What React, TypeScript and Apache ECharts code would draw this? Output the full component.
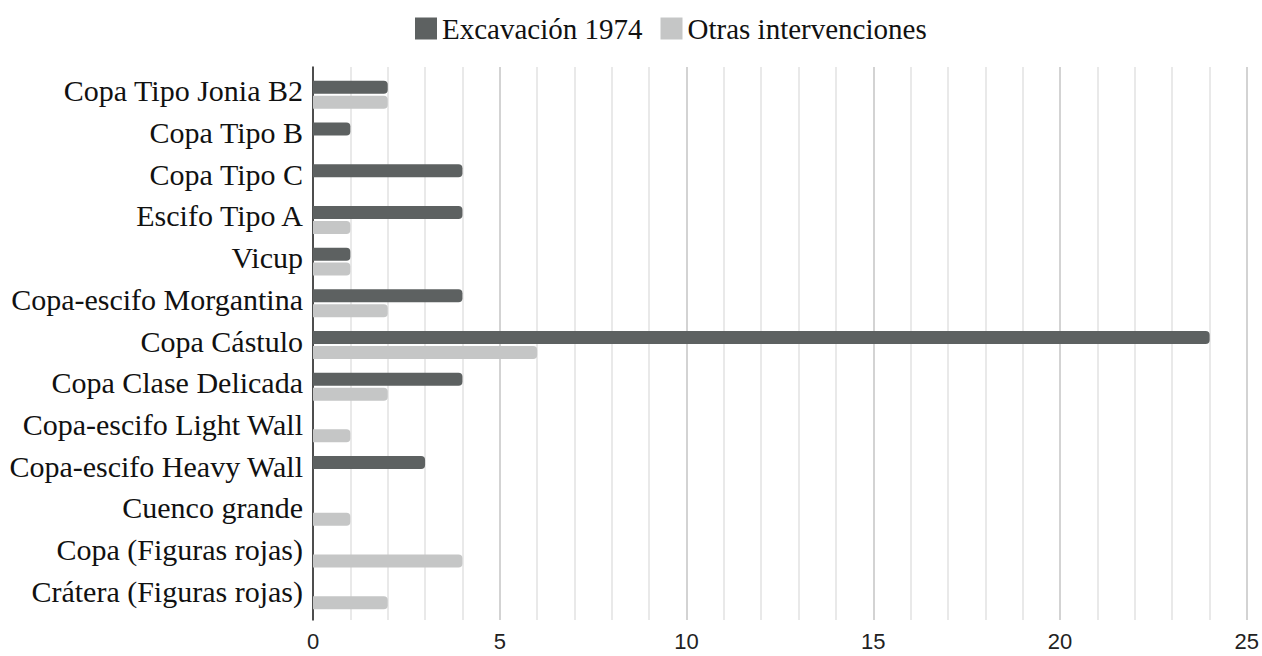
import React, { useEffect, useRef } from "react";
import * as echarts from "echarts";

const categories = [
  "Copa Tipo Jonia B2",
  "Copa Tipo B",
  "Copa Tipo C",
  "Escifo Tipo A",
  "Vicup",
  "Copa-escifo Morgantina",
  "Copa Cástulo",
  "Copa Clase Delicada",
  "Copa-escifo Light Wall",
  "Copa-escifo Heavy Wall",
  "Cuenco grande",
  "Copa (Figuras rojas)",
  "Crátera (Figuras rojas)",
];
const excavacion1974 = [2, 1, 4, 4, 1, 4, 24, 4, 0, 3, 0, 0, 0];
const otrasIntervenciones = [2, 0, 0, 1, 1, 2, 6, 2, 1, 0, 1, 4, 2];
const seriesNames = ["Excavación 1974", "Otras intervenciones"];

export default function App() {
  const ref = useRef<HTMLDivElement>(null);
  useEffect(() => {
    document.body.style.margin = "0";
    if (!ref.current) return;
    const chart = echarts.init(ref.current, null, { renderer: "svg" });
    const serif = "'Liberation Serif', 'DejaVu Serif', serif";
    chart.setOption({
      animation: false,
      legend: {
        top: 14,
        left: 415,
        padding: 0,
        itemWidth: 22,
        itemHeight: 22,
        itemGap: 18,
        icon: "rect",
        textStyle: { fontFamily: serif, fontSize: 29, color: "#111" },
        data: seriesNames,
      },
      grid: [
        { left: 313, right: 15, top: 67, bottom: 36 },
        { left: 313, right: 15, top: 74, bottom: 40 },
      ],
      xAxis: [
        {
          type: "value",
          gridIndex: 0,
          min: 0,
          max: 25,
          interval: 5,
          axisLine: { show: false },
          axisTick: { show: false },
          axisLabel: {
            fontFamily: "'Liberation Sans', Arial, sans-serif",
            fontSize: 22,
            color: "#222",
            margin: 10,
          },
          splitLine: { show: true, lineStyle: { color: "#c4c4c4", width: 1.5 } },
          minorTick: { show: false, splitNumber: 5 },
          minorSplitLine: { show: true, lineStyle: { color: "#e2e2e2", width: 1.5 } },
        },
        {
          type: "value",
          gridIndex: 1,
          min: 0,
          max: 25,
          interval: 5,
          show: false,
        },
      ],
      yAxis: [
        {
          type: "category",
          gridIndex: 0,
          inverse: true,
          data: categories,
          axisLine: { show: true, lineStyle: { color: "#222", width: 1.5 } },
          axisTick: { show: false },
          axisLabel: { show: false },
          splitLine: { show: false },
        },
        {
          type: "category",
          gridIndex: 1,
          inverse: true,
          data: categories,
          axisLine: { show: false },
          axisTick: { show: false },
          splitLine: { show: false },
          axisLabel: {
            margin: 10,
            formatter: (v: string) => `{a|${v}}`,
            rich: {
              a: {
                fontFamily: serif,
                fontSize: 30,
                color: "#111",
                padding: [0, 0, 8, 0],
              },
            },
          },
        },
      ],
      series: [
        {
          name: seriesNames[0],
          type: "bar",
          xAxisIndex: 1,
          yAxisIndex: 1,
          data: excavacion1974,
          barWidth: 13,
          barGap: "15%",
          itemStyle: { color: "#5d6161", borderRadius: [0, 4, 4, 0] },
        },
        {
          name: seriesNames[1],
          type: "bar",
          xAxisIndex: 1,
          yAxisIndex: 1,
          data: otrasIntervenciones,
          barWidth: 13,
          itemStyle: { color: "#c5c6c6", borderRadius: [0, 4, 4, 0] },
        },
      ],
    });
    return () => chart.dispose();
  }, []);
  return <div ref={ref} style={{ width: 1262, height: 656 }} />;
}
